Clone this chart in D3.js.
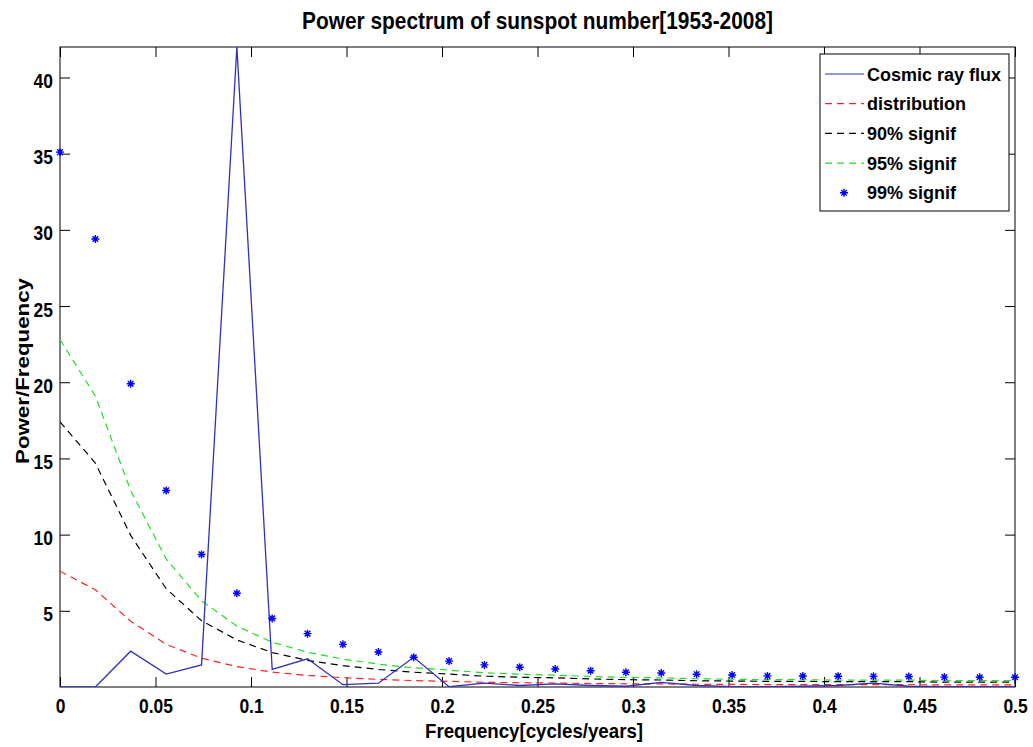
<!DOCTYPE html>
<html>
<head>
<meta charset="utf-8">
<script src="https://cdn.jsdelivr.net/npm/d3@7"></script>
<style>
  html, body { margin: 0; padding: 0; background: #fff; }
  svg { display: block; }
  text { font-family: "Liberation Sans", Arial, sans-serif; font-weight: bold; fill: #000; }
</style>
</head>
<body>
<svg id="chart" width="1033" height="747"></svg>
<script>
// ---- data ----
const frequency = [0, 0.0185, 0.0370, 0.0556, 0.0741, 0.0926, 0.1111, 0.1296, 0.1481, 0.1667,
  0.1852, 0.2037, 0.2222, 0.2407, 0.2593, 0.2778, 0.2963, 0.3148, 0.3333, 0.3519,
  0.3704, 0.3889, 0.4074, 0.4259, 0.4444, 0.4630, 0.4815, 0.5];
const cosmicRayFlux = [0, 0, 2.35, 0.85, 1.45, 42, 1.15, 1.85, 0.15, 0.25,
  1.95, 0.02, 0.25, 0.1, 0.2, 0.1, 0.05, 0.3, 0.1, 0.02,
  0.02, 0.05, 0.1, 0.25, 0.05, 0.02, 0.02, 0.02];
const distribution = [7.6, 6.38, 4.32, 2.8, 1.89, 1.34, 0.98, 0.76, 0.61, 0.5,
  0.42, 0.37, 0.31, 0.28, 0.26, 0.23, 0.21, 0.2, 0.18, 0.17,
  0.16, 0.16, 0.15, 0.15, 0.15, 0.14, 0.14, 0.14];
const signif90 = [17.4, 14.7, 9.95, 6.45, 4.35, 3.09, 2.26, 1.75, 1.4, 1.15,
  0.97, 0.85, 0.71, 0.64, 0.6, 0.53, 0.48, 0.46, 0.41, 0.39,
  0.37, 0.37, 0.35, 0.35, 0.35, 0.32, 0.32, 0.32];
const signif95 = [22.8, 19.1, 12.9, 8.4, 5.66, 4.0, 2.94, 2.28, 1.83, 1.5,
  1.26, 1.11, 0.93, 0.84, 0.78, 0.69, 0.63, 0.6, 0.54, 0.51,
  0.48, 0.48, 0.45, 0.45, 0.45, 0.42, 0.42, 0.42];
const signif99 = [35.1, 29.4, 19.9, 12.9, 8.7, 6.15, 4.5, 3.5, 2.8, 2.3,
  1.95, 1.7, 1.45, 1.3, 1.18, 1.07, 0.97, 0.92, 0.84, 0.79,
  0.73, 0.72, 0.71, 0.7, 0.69, 0.65, 0.64, 0.64];
const xTicks = [0, 0.05, 0.1, 0.15, 0.2, 0.25, 0.3, 0.35, 0.4, 0.45, 0.5];
const xTickLabels = ["0", "0.05", "0.1", "0.15", "0.2", "0.25", "0.3", "0.35", "0.4", "0.45", "0.5"];
const yTicks = [5, 10, 15, 20, 25, 30, 35, 40];
const legendLabels = ["Cosmic ray flux", "distribution", "90% signif", "95% signif", "99% signif"];
const titleText = "Power spectrum of sunspot number[1953-2008]";
const xLabelText = "Frequency[cycles/years]";
const yLabelText = "Power/Frequency";

// ---- layout ----
const L = 60, R = 1015, T = 47, B = 687;
const SX = 0.83; // condensed look of the original font
const svg = d3.select("#chart");
const x = d3.scaleLinear().domain([0, 0.5]).range([L, R]);
const y = d3.scaleLinear().domain([0, 42]).range([B, T]);

svg.append("defs").append("clipPath").attr("id", "plotclip")
  .append("rect").attr("x", L).attr("y", T).attr("width", R - L).attr("height", B - T);

// axes with inner ticks
const tickLen = 10;
const gxB = svg.append("g").attr("transform", `translate(0,${B})`)
  .call(d3.axisBottom(x).tickValues(xTicks).tickSizeInner(-tickLen).tickSizeOuter(0)
    .tickFormat((d, i) => xTickLabels[i]));
const gxT = svg.append("g").attr("transform", `translate(0,${T})`)
  .call(d3.axisTop(x).tickValues(xTicks).tickSizeInner(-tickLen).tickSizeOuter(0).tickFormat(""));
const gyL = svg.append("g").attr("transform", `translate(${L},0)`)
  .call(d3.axisLeft(y).tickValues(yTicks).tickSizeInner(-tickLen).tickSizeOuter(0));
const gyR = svg.append("g").attr("transform", `translate(${R},0)`)
  .call(d3.axisRight(y).tickValues(yTicks).tickSizeInner(-tickLen).tickSizeOuter(0).tickFormat(""));
[gxB, gxT, gyL, gyR].forEach(g => {
  g.attr("font-family", null).attr("font-size", null);
  g.select(".domain").remove();
  g.selectAll(".tick line").attr("stroke", "#000").attr("stroke-width", 1);
});
gxB.selectAll(".tick text")
  .attr("font-size", 21).attr("x", 0).attr("y", 26).attr("dy", null)
  .attr("transform", `scale(${SX},1)`);
gyL.selectAll(".tick text")
  .attr("font-size", 21).attr("x", -7 / SX).attr("y", 10).attr("dy", null)
  .attr("transform", `scale(${SX},1)`);

// frame
svg.append("rect").attr("x", L).attr("y", T).attr("width", R - L).attr("height", B - T)
  .attr("fill", "none").attr("stroke", "#000").attr("stroke-width", 1);

const plot = svg.append("g").attr("clip-path", "url(#plotclip)");
const lineGen = vals => d3.line().x((d, i) => x(frequency[i])).y(d => y(d))(vals);

plot.append("path").attr("d", lineGen(distribution)).attr("fill", "none")
  .attr("stroke", "#ff2020").attr("stroke-width", 1.2).attr("stroke-dasharray", "7,5");
plot.append("path").attr("d", lineGen(signif90)).attr("fill", "none")
  .attr("stroke", "#000").attr("stroke-width", 1.2).attr("stroke-dasharray", "7,5");
plot.append("path").attr("d", lineGen(signif95)).attr("fill", "none")
  .attr("stroke", "#22dd22").attr("stroke-width", 1.2).attr("stroke-dasharray", "7,5");
plot.append("path").attr("d", lineGen(cosmicRayFlux)).attr("fill", "none")
  .attr("stroke", "#3030c0").attr("stroke-width", 1.3);

// star markers
const starPath = (cx, cy, r) => {
  const d = r * 0.7071;
  return `M${cx - r},${cy}L${cx + r},${cy}M${cx},${cy - r}L${cx},${cy + r}` +
    `M${cx - d},${cy - d}L${cx + d},${cy + d}M${cx - d},${cy + d}L${cx + d},${cy - d}`;
};
svg.append("g").selectAll("path").data(signif99).join("path")
  .attr("d", (d, i) => starPath(x(frequency[i]), y(d), 4))
  .attr("stroke", "#0000ff").attr("stroke-width", 1.4).attr("fill", "none");

// title & labels
svg.append("text").attr("x", 302).attr("y", 29)
  .attr("font-size", 24).attr("textLength", 471).attr("lengthAdjust", "spacingAndGlyphs")
  .text(titleText);
svg.append("text").attr("x", 425).attr("y", 738)
  .attr("font-size", 21).attr("textLength", 218).attr("lengthAdjust", "spacingAndGlyphs")
  .text(xLabelText);
svg.append("text").attr("transform", `translate(29,464) rotate(-90)`)
  .attr("font-size", 18).attr("textLength", 186).attr("lengthAdjust", "spacingAndGlyphs")
  .text(yLabelText);

// legend
const lg = svg.append("g");
lg.append("rect").attr("x", 820).attr("y", 54).attr("width", 189).attr("height", 157)
  .attr("fill", "#fff").attr("stroke", "#000").attr("stroke-width", 1);
const legendStyles = [
  { color: "#3030c0", dash: null, marker: false },
  { color: "#ff2020", dash: "7,5", marker: false },
  { color: "#000", dash: "7,5", marker: false },
  { color: "#22dd22", dash: "7,5", marker: false },
  { color: "#0000ff", dash: null, marker: true }
];
legendLabels.forEach((lab, i) => {
  const yy = 74 + i * 29.7;
  const st = legendStyles[i];
  if (st.marker) {
    lg.append("path").attr("d", starPath(844, yy, 4)).attr("stroke", st.color)
      .attr("stroke-width", 1.4).attr("fill", "none");
  } else {
    lg.append("line").attr("x1", 825).attr("x2", 864).attr("y1", yy).attr("y2", yy)
      .attr("stroke", st.color).attr("stroke-width", 1.2).attr("stroke-dasharray", st.dash);
  }
  lg.append("text").attr("x", 867).attr("y", yy + 6.5)
    .attr("font-size", 18).attr("transform", null).text(lab);
});
</script>
</body>
</html>
